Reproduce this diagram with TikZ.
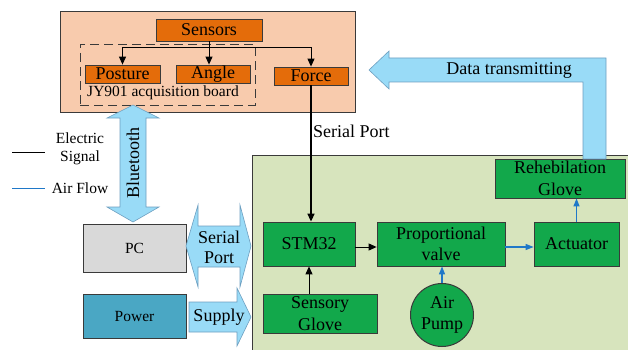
\documentclass[tikz,border=0pt]{standalone}
\usepackage{fontspec}
\setmainfont{Liberation Serif}
\usetikzlibrary{arrows.meta,calc}

\definecolor{peach}{HTML}{F8CBAD}
\definecolor{orangebox}{HTML}{E46C0A}
\definecolor{panelgreen}{HTML}{D7E4BD}
\definecolor{greenbox}{HTML}{12A84B}
\definecolor{lightblue}{HTML}{99DBF7}
\definecolor{arrowline}{HTML}{6E9FC0}
\definecolor{airblue}{HTML}{1F78C8}
\definecolor{boxline}{HTML}{3A3A3A}
\definecolor{pcgray}{HTML}{D9D9D9}
\definecolor{powerteal}{HTML}{4AA7C4}

\begin{document}
\begin{tikzpicture}[x=1pt,y=-1pt,
  box/.style={draw=boxline, line width=0.8pt, inner sep=0pt, align=center,
    font=\fontsize{18}{21.5}\selectfont},
  obox/.style={box, fill=orangebox},
  gbox/.style={box, fill=greenbox},
  small/.style={font=\fontsize{15.5}{18}\selectfont, align=center, inner sep=0pt},
  big/.style={font=\fontsize{18}{20}\selectfont, align=center, inner sep=0pt},
  sig/.style={line width=1pt, -{Triangle[length=8pt,width=7pt]}},
  air/.style={draw=airblue, line width=1.2pt, -{Triangle[length=8pt,width=6pt]}},
  blockarrow/.style={draw=arrowline, line width=0.6pt, fill=lightblue}]
\useasboundingbox (0,0) rectangle (628,350);

% sensor panel
\node[draw=boxline, line width=0.8pt, fill=peach, inner sep=0pt,
  minimum width=295pt, minimum height=101pt] (panel) at (207.5,61.5) {};
\node[obox, minimum width=106pt, minimum height=22pt] (sens) at (209,30) {Sensors};
\node[draw=boxline, line width=0.8pt, dash pattern=on 9pt off 5pt, inner sep=0pt,
  minimum width=175pt, minimum height=61pt] (jy) at (167.5,74.5) {};
\node[obox, minimum width=75pt, minimum height=18pt] (post) at (122.5,74) {Posture};
\node[obox, minimum width=74pt, minimum height=18pt] (ang) at (213,74) {Angle};
\node[obox, minimum width=74pt, minimum height=18pt] (force) at (311,76) {Force};
\node[small] (jylabel) at (163,93) {JY901 acquisition board};

\coordinate (split) at (209,48);
\draw[sig] (sens.south) -- (sens.south |- ang.north);
\draw[sig] (split) -| (post.north);
\draw[sig] (split) -| (force.north);

% controller panel
\node[draw=boxline, line width=0.8pt, fill=panelgreen, inner sep=0pt, anchor=north west,
  minimum width=390pt, minimum height=210pt] (ctrl) at (252,155) {};
\node[gbox, minimum width=92pt, minimum height=44pt] (stm) at (309,244) {STM32};
\node[gbox, minimum width=114pt, minimum height=39pt] (sg) at (320,313.5) {Sensory\\Glove};
\node[gbox, minimum width=128pt, minimum height=44pt] (valve) at (441,244) {Proportional\\valve};
\node[gbox, minimum width=85pt, minimum height=44pt] (act) at (576.5,244) {Actuator};
\node[gbox, minimum width=130pt, minimum height=39pt] (rehab) at (560,178.5) {Rehebilation\\Glove};
\node[gbox, circle, line width=1pt, minimum size=63pt] (pump) at (442,315) {Air\\Pump};

% left column
\node[draw=boxline, line width=0.8pt, fill=pcgray, small, minimum width=103pt,
  minimum height=48pt] (pc) at (134.5,248) {PC};
\node[draw=boxline, line width=0.8pt, fill=powerteal, small, minimum width=103pt,
  minimum height=44pt] (power) at (134.5,316) {Power};

% signal connectors
\draw[sig, line width=1.5pt] (force.south) -- (force.south |- stm.north);
\node[big, anchor=west] (seriallabel) at (313,131) {Serial Port};
\draw[sig] (stm.south |- sg.north) -- (stm.south);
\draw[sig] ($(stm.east)+(0,3)$) -- ($(valve.west)+(0,3)$);

% air connectors
\draw[air] ($(valve.east)+(0,3)$) -- ($(act.west)+(0,3)$);
\draw[air] (pump.north) -- (pump.north |- valve.south);
\draw[air] (act.north) -- (act.north |- rehab.south);

% block arrows
\draw[blockarrow] (133,105) -- (159,118) -- (146,118) -- (146,207) -- (159,207)
  -- (133,222) -- (107,207) -- (120,207) -- (120,118) -- (107,118) -- cycle;
\node[big, rotate=90] (bt) at (133,163) {Bluetooth};

\draw[blockarrow] (186,246) -- (198,205) -- (198,226) -- (240,226) -- (240,205)
  -- (251,246) -- (240,287) -- (240,267) -- (198,267) -- (198,287) -- cycle;
\node[big] (sp) at (219,247) {Serial\\Port};

\draw[blockarrow] (189,302) -- (237,302) -- (237,288) -- (251,317) -- (237,346)
  -- (237,332) -- (189,332) -- cycle;
\node[big] (supply) at (219,317) {Supply};

\draw[blockarrow] (583,159) -- (583,82) -- (389,82) -- (389,89) -- (369,70)
  -- (389,51) -- (389,58) -- (606,58) -- (606,159) -- cycle;
\node[big] (data) at (509,70) {Data transmitting};

% legend
\coordinate (le1) at (12,152);
\coordinate (le2) at (45,152);
\coordinate (la1) at (12,188);
\coordinate (la2) at (45,188);
\draw[line width=0.8pt] (le1) -- (le2);
\draw[draw=airblue, line width=1pt] (la1) -- (la2);
\node[small] (elabel) at (80,149) {Electric\\Signal};
\node[small] (alabel) at (80,188) {Air Flow};
\end{tikzpicture}
\end{document}
